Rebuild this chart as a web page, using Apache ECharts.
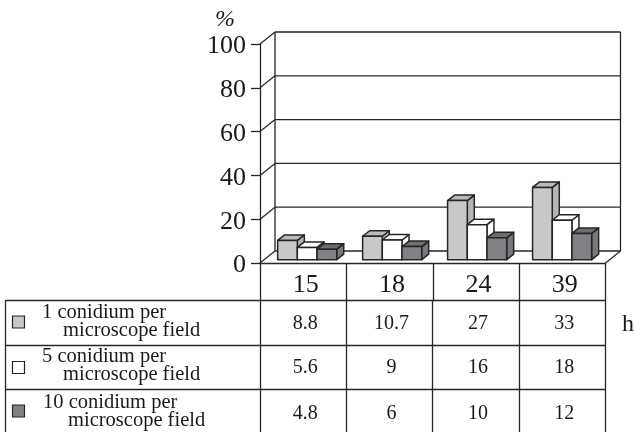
<!DOCTYPE html>
<html>
<head>
<meta charset="utf-8">
<style>
  html, body { margin: 0; padding: 0; background: #fff; }
  #chart { width: 634px; height: 432px; }
</style>
<script src="https://cdn.jsdelivr.net/npm/echarts@6/dist/echarts.min.js"></script>
</head>
<body>
<div id="chart"></div>
<script>
// chart values
const hours = ['15', '18', '24', '39'];
const yTicks = [0, 20, 40, 60, 80, 100];
const oneConidium = [8.8, 10.7, 27, 33];
const fiveConidium = [5.6, 9, 16, 18];
const tenConidium = [4.8, 6, 10, 12];
const seriesNames = [
    ['1 conidium per', 'microscope field'],
    ['5 conidium per', 'microscope field'],
    ['10 conidium per', 'microscope field']
];

const LINE = '#262626';
const SERIF = '"Liberation Serif", "Times New Roman", serif';

// looks and layout of each table row
const rowValues = [oneConidium, fiveConidium, tenConidium];
const rowStyles = [
    { front: '#c7c8ca', top: '#b9babc', side: '#b4b5b7' },
    { front: '#ffffff', top: '#ffffff', side: '#ffffff' },
    { front: '#808184', top: '#6d6e70', side: '#77787b' }
];
const rowIndent = [[42, 63], [42, 63], [43, 68]];
const rowLines = [300, 345, 389];
const rowMid = [322.5, 367, 413];    // last row runs off the bottom of the picture
const swatchMid = [322, 367.5, 411];

const depthX = 15, depthY = 12;      // back wall shift
const barDepthX = 7, barDepthY = 5.5;

function poly(points, fill) {
    return {
        type: 'polygon',
        shape: { points: points },
        style: { fill: fill, stroke: LINE, lineWidth: 1.5, lineJoin: 'round' }
    };
}

function hline(x1, y1, x2, y2) {
    return {
        type: 'line',
        shape: { x1: x1, y1: y1, x2: x2, y2: y2 },
        style: { stroke: LINE, lineWidth: 1.3 }
    };
}

// walls of the fake 3d box, one group per y tick
function renderWall(params, api) {
    const v = api.value(0);
    const left = api.coord([0, v]);
    const band = api.size([1, 0])[0];
    const x0 = left[0] - band / 2;
    const x1 = x0 + band * hours.length;
    const y = left[1];
    const children = [
        hline(x0, y, x0 + depthX, y - depthY),
        hline(x0 + depthX, y - depthY, x1 + depthX, y - depthY)
    ];
    if (v === 0) {
        const top = api.coord([0, yTicks[yTicks.length - 1]])[1];
        children.push(hline(x1, y, x1 + depthX, y - depthY));
        children.push(hline(x0 + depthX, y - depthY, x0 + depthX, top - depthY));
        children.push(hline(x1 + depthX, y - depthY, x1 + depthX, top - depthY));
    }
    return { type: 'group', children: children };
}

// one 3d bar, slot = which bar of the category
function makeBarRenderer(slot, style) {
    return function (params, api) {
        const cat = api.value(0);
        const val = api.value(1);
        const band = api.size([1, 0])[0];
        const base = api.coord([cat, 0]);
        const topPt = api.coord([cat, val]);
        const w = band * 0.228;
        // groups sit a bit left of the cell centre the further right they go
        const x = base[0] + 4 - cat * 1.4 - w * 1.5 + slot * w;
        const by = base[1] - 3.3;
        const ty = topPt[1] - 3.3;
        return {
            type: 'group',
            children: [
                poly([[x + w, ty], [x + w + barDepthX, ty - barDepthY], [x + w + barDepthX, by - barDepthY], [x + w, by]], style.side),
                poly([[x, ty], [x + barDepthX, ty - barDepthY], [x + w + barDepthX, ty - barDepthY], [x + w, ty]], style.top),
                poly([[x, ty], [x + w, ty], [x + w, by], [x, by]], style.front)
            ]
        };
    };
}

// numbers inside the table
function renderCell(params, api) {
    const x = api.coord([api.value(0), 0])[0] + 2;
    return {
        type: 'text',
        style: {
            x: x,
            y: rowMid[api.value(1)] + 1,
            text: String(api.value(2)),
            font: '20px ' + SERIF,
            fill: '#1a1a1a',
            textAlign: 'center',
            textVerticalAlign: 'middle'
        }
    };
}

const cellData = [];
rowValues.forEach((values, r) => {
    values.forEach((v, c) => cellData.push([c, r, v]));
});

const barSeries = rowValues.map((values, i) => ({
    type: 'custom',
    name: seriesNames[i].join(' '),
    renderItem: makeBarRenderer(i, rowStyles[i]),
    encode: { x: 0, y: 1 },
    data: values.map((v, c) => [c, v]),
    animation: false,
    silent: true,
    z: 3 + i
}));

// table lines, swatches, legend text
const graphics = [];
const tableLeft = 5.5, tableRight = 605.5, labelCol = 260.5;
rowLines.forEach(y => {
    graphics.push({ type: 'line', shape: { x1: tableLeft, y1: y + 0.5, x2: tableRight, y2: y + 0.5 }, style: { stroke: LINE, lineWidth: 1.3 } });
});
[tableLeft, labelCol, 346.5, 432.5, 519.5, tableRight].forEach(x => {
    graphics.push({ type: 'line', shape: { x1: x, y1: 300, x2: x, y2: 432 }, style: { stroke: LINE, lineWidth: 1.3 } });
});
seriesNames.forEach((lines, r) => {
    graphics.push({ type: 'rect', shape: { x: 12.5, y: swatchMid[r] - 6, width: 12, height: 12 }, style: { fill: rowStyles[r].front, stroke: LINE, lineWidth: 1.2 } });
    lines.forEach((line, i) => {
        graphics.push({
            type: 'text',
            style: { x: rowIndent[r][i], y: rowMid[r] + (i === 0 ? -10 : 8), text: line, font: '20.5px ' + SERIF, fill: '#1a1a1a', textVerticalAlign: 'middle' }
        });
    });
});
graphics.push({ type: 'text', style: { x: 622, y: 325, text: 'h', font: '24px ' + SERIF, fill: '#1a1a1a', textVerticalAlign: 'middle' } });
graphics.push({ type: 'text', style: { x: 215, y: 20, text: '%', font: 'italic 24px ' + SERIF, fill: '#1a1a1a', textVerticalAlign: 'middle' } });

const myChart = echarts.init(document.getElementById('chart'), null, { renderer: 'canvas' });
myChart.setOption({
    animation: false,
    backgroundColor: '#fff',
    grid: { left: 260, top: 44, width: 345.5, height: 219, containLabel: false },
    xAxis: {
        type: 'category',
        data: hours,
        axisLine: { show: true, lineStyle: { color: LINE, width: 1.3 } },
        axisTick: { show: true, alignWithLabel: false, length: 37, lineStyle: { color: LINE, width: 1.3 } },
        axisLabel: { color: '#1a1a1a', fontFamily: SERIF, fontSize: 26, margin: 9, padding: [0, 0, 0, 5] }
    },
    yAxis: {
        type: 'value',
        min: 0,
        max: 100,
        interval: 20,
        axisLine: { show: true, lineStyle: { color: LINE, width: 1.3 } },
        axisTick: { show: true, length: 9, lineStyle: { color: LINE, width: 1.3 } },
        splitLine: { show: false },
        // thin line box pushes the digits a little below the tick
        axisLabel: { color: '#1a1a1a', fontFamily: SERIF, fontSize: 26, margin: 14, verticalAlign: 'top', lineHeight: 5 }
    },
    graphic: graphics,
    series: [
        {
            type: 'custom',
            name: 'walls',
            renderItem: renderWall,
            encode: { y: 0 },
            data: yTicks.map(v => [v]),
            animation: false,
            silent: true,
            z: 1
        }
    ].concat(barSeries, [
        {
            type: 'custom',
            name: 'table',
            renderItem: renderCell,
            data: cellData,
            animation: false,
            silent: true,
            z: 5
        }
    ])
});
</script>
</body>
</html>
